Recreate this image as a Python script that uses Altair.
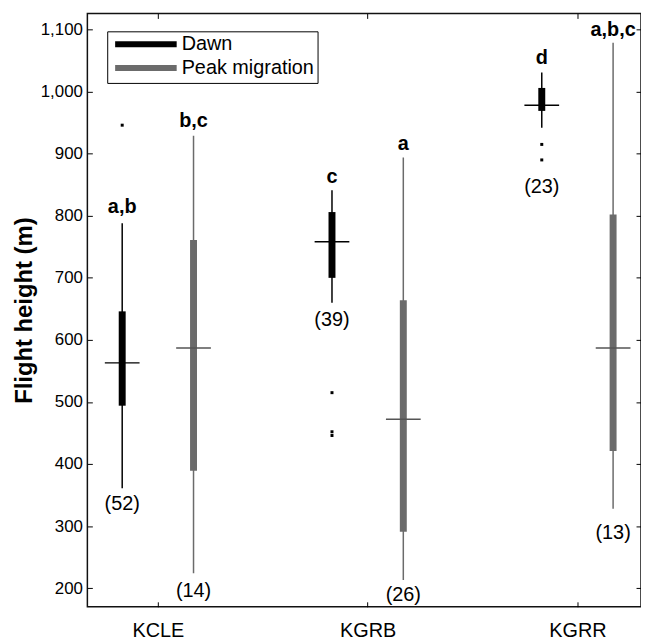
import altair as alt
import pandas as pd

# ---- data ----
site_names = ["KCLE", "KGRB", "KGRR"]
site_index = [1, 1, 2, 2, 3, 3]
periods = ["Dawn", "Peak migration", "Dawn", "Peak migration", "Dawn", "Peak migration"]
whisker_lo = [361, 224, 660, 213, 942, 328]
q1 = [494, 389, 700, 291, 969, 421]
median = [563, 587, 758, 472, 978, 587]
q3 = [646, 761, 806, 664, 1006, 802]
whisker_hi = [788, 929, 841, 894, 1031, 1079]
n_labels = ["(52)", "(14)", "(39)", "(26)", "(23)", "(13)"]
n_label_y = [336, 195, 632, 189, 847, 288]
letters = ["a,b", "b,c", "c", "a", "d", "a,b,c"]
letter_y = [814, 953, 862, 915, 1054, 1100]

outlier_site_index = [1, 2, 2, 2, 3, 3]
outlier_period = ["Dawn", "Dawn", "Dawn", "Dawn", "Dawn", "Dawn"]
outlier_values = [946, 515, 452, 446, 915, 890]

y_ticks = [200, 300, 400, 500, 600, 700, 800, 900, 1000, 1100]

# ---- layout constants ----
GROUP_OFFSET = {"Dawn": -0.17, "Peak migration": 0.17}
FONT = "Liberation Sans"

df = pd.DataFrame({
    "site": [site_names[i - 1] for i in site_index],
    "idx": site_index,
    "period": periods,
    "lo": whisker_lo, "q1": q1, "med": median, "q3": q3, "hi": whisker_hi,
    "nlab": n_labels, "ny": n_label_y, "let": letters, "ly": letter_y,
})
df["xpos"] = df["idx"] + df["period"].map(GROUP_OFFSET)

out = pd.DataFrame({"idx": outlier_site_index, "period": outlier_period, "v": outlier_values})
out["xpos"] = out["idx"] + out["period"].map(GROUP_OFFSET)

xs = alt.Scale(domain=[0.664, 3.303], nice=False, zero=False)
ys = alt.Scale(domain=[170, 1126], nice=False, zero=False)

per_domain = ["Dawn", "Peak migration"]
box_colors = ["#000000", "#6b6b6b"]
med_colors = {"Dawn": "#000000", "Peak migration": "#555555"}

x_bottom = alt.X("xpos:Q", scale=xs, axis=alt.Axis(
    orient="bottom", values=[1, 2, 3],
    labelExpr="['', 'KCLE', 'KGRB', 'KGRR'][datum.value]",
    title=None, grid=False, domain=False, tickSize=5, offset=-5,
    tickColor="black", labelPadding=14, labelFontSize=20, labelFont=FONT,
    labelColor="black"))
y_left = alt.Y("q1:Q", scale=ys, axis=alt.Axis(
    orient="left", values=y_ticks, format=",d", title="Flight height (m)",
    titleFontSize=24, titleFont=FONT, titleFontWeight="bold", titleColor="black",
    titlePadding=4, grid=False, domain=False, tickSize=5, offset=-5,
    tickColor="black", labelPadding=5, labelFontSize=17, labelFont=FONT,
    labelColor="black"))

base = alt.Chart(df)

boxes = base.mark_rule(strokeWidth=7).encode(
    x=x_bottom,
    y=y_left,
    y2="q3:Q",
    color=alt.Color("period:N", scale=alt.Scale(domain=per_domain, range=box_colors),
                    legend=alt.Legend(
                        title=None, orient="none", legendX=20, legendY=18,
                        symbolType="M-4.43,0H4.43", symbolStrokeWidth=6, symbolSize=196,
                        symbolOffset=26,
                        labelFontSize=20, labelFont=FONT, labelColor="black",
                        labelOffset=26, padding=3, rowPadding=0,
                        strokeColor="black", fillColor="white")),
)

layers = [boxes]
for p, wcol in zip(per_domain, box_colors):
    layers.append(
        base.transform_filter(alt.datum.period == p).mark_rule(strokeWidth=1.5, color=wcol).encode(
            x=alt.X("xpos:Q", scale=xs, axis=None),
            y=alt.Y("lo:Q", scale=ys, axis=None),
            y2="hi:Q",
        )
    )
    layers.append(
        base.transform_filter(alt.datum.period == p).mark_tick(
            orient="horizontal", size=35, thickness=1.5, color=med_colors[p], opacity=1).encode(
            x=alt.X("xpos:Q", scale=xs, axis=None),
            y=alt.Y("med:Q", scale=ys, axis=None),
        )
    )

outliers = alt.Chart(out).mark_square(size=9, color="black", opacity=1).encode(
    x=alt.X("xpos:Q", scale=xs, axis=None),
    y=alt.Y("v:Q", scale=ys, axis=None),
)

letter_text = base.mark_text(fontSize=20, fontWeight="bold", font=FONT, color="black",
                             baseline="middle", align="center").encode(
    x=alt.X("xpos:Q", scale=xs, axis=None),
    y=alt.Y("ly:Q", scale=ys, axis=None),
    text="let:N",
)

n_text = base.mark_text(fontSize=20, font=FONT, color="black",
                        baseline="middle", align="center").encode(
    x=alt.X("xpos:Q", scale=xs, axis=None),
    y=alt.Y("ny:Q", scale=ys, axis=None),
    text="nlab:N",
)

mirror_axes = base.mark_point(opacity=0).encode(
    x=alt.X("xpos:Q", scale=xs, axis=alt.Axis(
        orient="top", values=[1, 2, 3], labels=False, title=None, grid=False,
        domain=False, tickSize=5, offset=-5, tickColor="black")),
    y=alt.Y("med:Q", scale=ys, axis=alt.Axis(
        orient="right", values=y_ticks, labels=False, title=None, grid=False,
        domain=False, tickSize=5, offset=-5, tickColor="black")),
)

chart = alt.layer(*layers, outliers, letter_text, n_text, mirror_axes).resolve_axis(
    x="independent", y="independent"
).properties(
    width=558, height=598,
    autosize=alt.AutoSizeParams(type="none"),
    padding={"left": 80, "top": 3, "right": 0, "bottom": 34},
    background="white",
).configure_view(stroke="#111111", strokeWidth=1.5)

chart.save("out.html", embed_options={"renderer": "svg", "actions": False})
